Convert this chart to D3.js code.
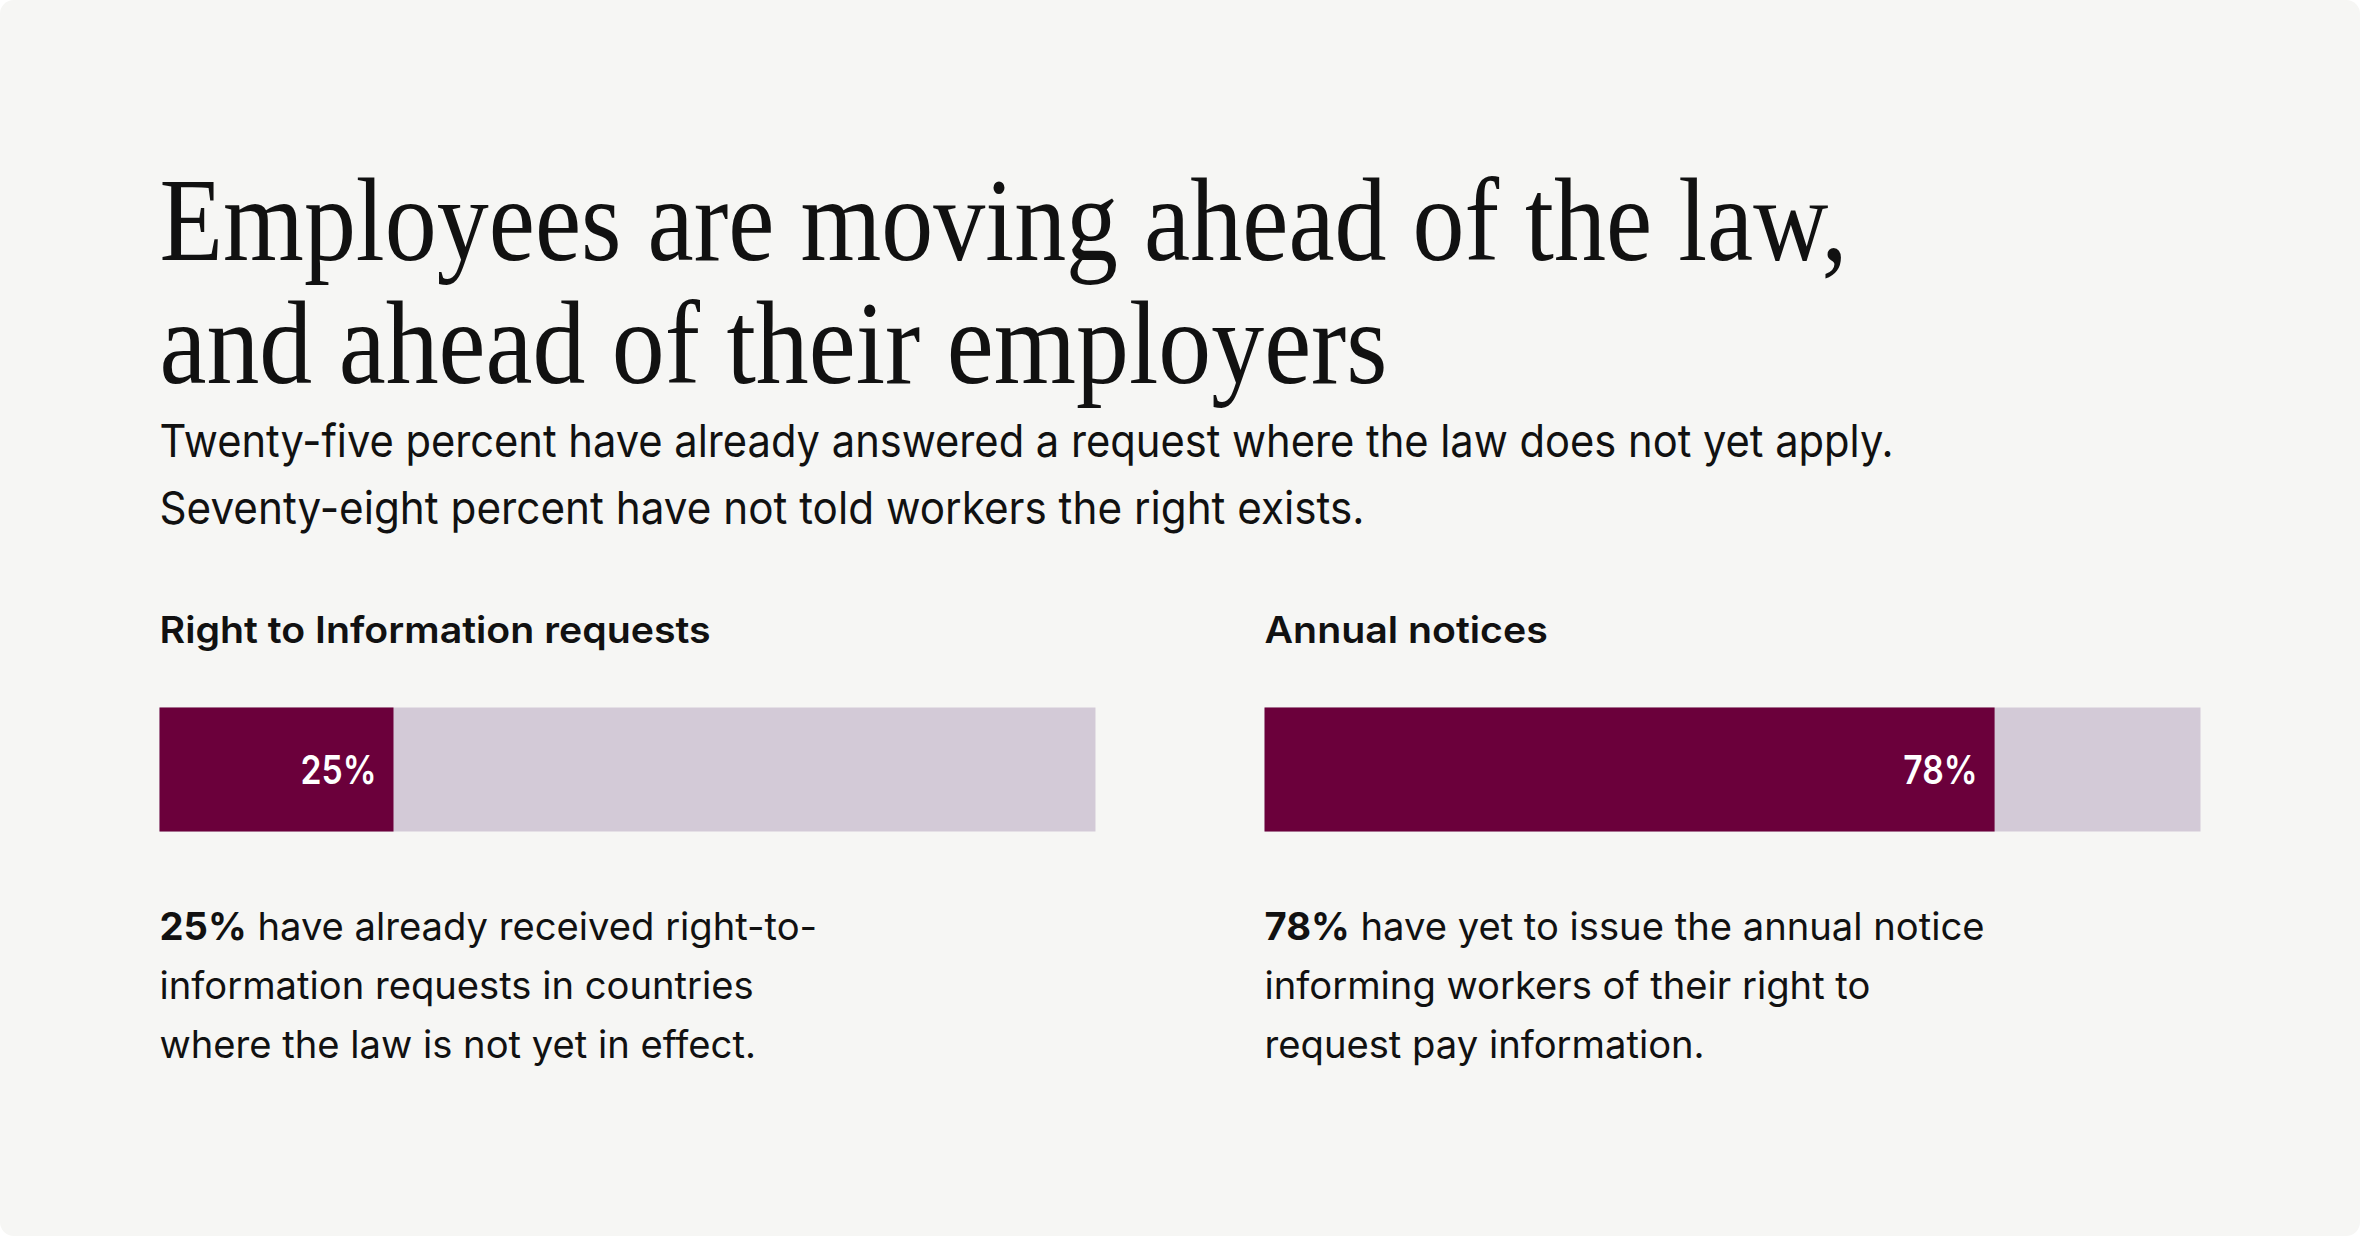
<!DOCTYPE html>
<html>
<head>
<meta charset="utf-8">
<script src="https://cdn.jsdelivr.net/npm/d3@7"></script>
<style>
  body { margin: 0; background: #ffffff; }
  svg { display: block; }
</style>
</head>
<body>
<div id="chart"></div>
<script>
// data
const titleLines = ["Employees are moving ahead of the law,", "and ahead of their employers"];
const subtitleLines = [
    "Twenty-five percent have already answered a request where the law does not yet apply.",
    "Seventy-eight percent have not told workers the right exists."
];
const categories = ["Right to Information requests", "Annual notices"];
const values = [25, 78];
const noteLeads = ["25%", "78%"];
const noteLines = [
    [" have already received right-to-", "information requests in countries", "where the law is not yet in effect."],
    [" have yet to issue the annual notice", "informing workers of their right to", "request pay information."]
];

const W = 2360, H = 1236;
const left = 159.5, right = 2200.5;
const serif = "'Liberation Serif', 'DejaVu Serif', serif";
const sans = "Inter, 'Noto Sans', sans-serif";
const ink = "#111111";
const dark = "#6b003b", light = "#d3cad7";

// widths the header lines take up in the original
const titleWidths = [1688, 1228];
const subWidths = [1734, 1205];

const svg = d3.select("#chart").append("svg")
    .attr("width", W)
    .attr("height", H);

svg.append("rect")
    .attr("x", 0).attr("y", 0)
    .attr("width", W).attr("height", H)
    .attr("rx", 14)
    .attr("fill", "#f6f6f4");

// squeeze a text horizontally so it looks like the narrow faces in the original
function squeeze(sel, k) {
    sel.each(function() {
        const len = this.getComputedTextLength();
        d3.select(this)
            .attr("textLength", len * k)
            .attr("lengthAdjust", "spacingAndGlyphs");
    });
}

const title = svg.append("g");
title.selectAll("text")
    .data(titleLines)
    .join("text")
    .attr("x", left)
    .attr("y", (d, i) => 260 + i * 123)
    .style("font-family", serif)
    .style("font-size", "118px")
    .attr("fill", ink)
    .attr("textLength", (d, i) => titleWidths[i])
    .attr("lengthAdjust", "spacingAndGlyphs")
    .text(d => d);

const sub = svg.append("g");
const subText = sub.selectAll("text")
    .data(subtitleLines)
    .join("text")
    .attr("x", left)
    .attr("y", (d, i) => 457 + i * 67)
    .style("font-family", sans)
    .style("font-size", "45px")
    .attr("fill", ink)
    .text(d => d);

const s0 = subText.node().getComputedTextLength();
const kSans = subWidths[0] / s0;
subText
    .attr("textLength", (d, i) => subWidths[i])
    .attr("lengthAdjust", "spacingAndGlyphs");

// panels
const xBand = d3.scaleBand()
    .domain(categories)
    .range([left, right])
    .paddingInner(0.153);

const x = d3.scaleLinear()
    .domain([0, 100])
    .range([0, xBand.bandwidth()]);

const barTop = 707.5, barH = 124;

const panel = svg.selectAll("g.panel")
    .data(categories.map((c, i) => ({cat: c, value: values[i], lead: noteLeads[i], lines: noteLines[i]})))
    .join("g")
    .attr("class", "panel")
    .attr("transform", d => `translate(${xBand(d.cat)}, 0)`);

panel.append("text")
    .attr("class", "head")
    .attr("x", 0)
    .attr("y", 643)
    .style("font-family", sans)
    .style("font-size", "37px")
    .style("font-weight", 600)
    .attr("fill", ink)
    .text(d => d.cat);

panel.append("rect")
    .attr("x", 0)
    .attr("y", barTop)
    .attr("width", x(100))
    .attr("height", barH)
    .attr("fill", light);

panel.append("rect")
    .attr("x", 0)
    .attr("y", barTop)
    .attr("width", d => x(d.value))
    .attr("height", barH)
    .attr("fill", dark);

panel.append("text")
    .attr("class", "val")
    .attr("x", d => x(d.value) - 17)
    .attr("y", barTop + barH / 2 + 14.5)
    .attr("text-anchor", "end")
    .style("font-family", sans)
    .style("font-size", "40px")
    .style("font-weight", 600)
    .attr("fill", "#ffffff")
    .text(d => d.value + "%");

const notes = panel.selectAll("text.note")
    .data(d => d.lines.map((l, i) => ({text: l, lead: i === 0 ? d.lead : null, i})))
    .join("text")
    .attr("class", "note")
    .attr("x", 0)
    .attr("y", d => 940 + d.i * 59)
    .style("font-family", sans)
    .style("font-size", "38px")
    .attr("fill", ink);

notes.filter(d => d.lead)
    .append("tspan")
    .style("font-weight", 700)
    .text(d => d.lead);
notes.append("tspan")
    .text(d => d.text);

squeeze(panel.selectAll("text.head"), kSans * 1.147);
squeeze(panel.selectAll("text.val"), kSans * 0.91);
squeeze(panel.selectAll("text.note"), kSans * 1.085);
</script>
</body>
</html>
